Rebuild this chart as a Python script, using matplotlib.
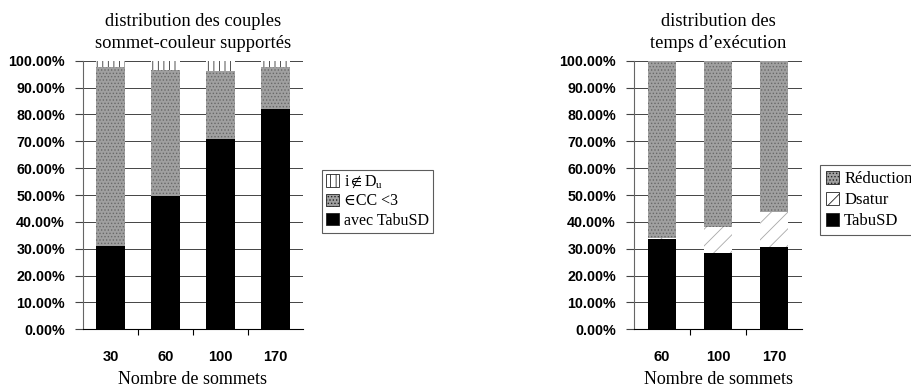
import matplotlib.pyplot as plt
import numpy as np

plt.rcParams['mathtext.fontset'] = 'stix'
plt.rcParams['hatch.linewidth'] = 0.6

# Données : couples sommet-couleur supportés (%)
sommets_1 = ['30', '60', '100', '170']
avec_tabusd = [31.0, 49.5, 71.0, 82.0]
cc_moins_3 = [66.5, 47.0, 25.0, 15.5]
hors_domaine = [2.5, 3.5, 4.0, 2.5]

# Données : temps d'exécution (%)
sommets_2 = ['60', '100', '170']
temps_tabusd = [33.5, 28.5, 30.5]
temps_dsatur = [0.5, 9.7, 13.0]
temps_reduction = [66.0, 61.8, 56.5]

serif = ['Liberation Serif', 'DejaVu Serif']
sans = 'Liberation Sans'
gris = '#a0a0a0'

fig = plt.figure(figsize=(9.11, 3.87), dpi=100)
ax1 = fig.add_axes([83 / 911, 1 - 329.3 / 387, 220 / 911, 268.6 / 387])
ax2 = fig.add_axes([634 / 911, 1 - 329.3 / 387, 168 / 911, 268.6 / 387])


def mise_en_forme(ax, labels, titre):
    n = len(labels)
    ax.set_xlim(-0.5, n - 0.5)
    ax.set_ylim(0, 100)
    ax.set_yticks(np.arange(0, 101, 10))
    ax.set_yticklabels([f'{v:.2f}%' for v in np.arange(0, 101, 10)],
                       fontfamily=sans, fontweight='bold', fontsize=10.3)
    ax.set_xticks(range(n))
    ax.set_xticklabels(labels, fontfamily=sans, fontweight='bold', fontsize=10.5)
    ax.set_xticks(np.arange(0.5, n - 0.5, 1), minor=True)
    ax.tick_params(axis='x', which='major', length=0, pad=15)
    ax.tick_params(axis='x', which='minor', length=4.5, direction='out', width=0.8)
    ax.tick_params(axis='y', length=5.5, width=0.8, pad=7.5, color='#444444')
    ax.grid(axis='y', color='#444444', linewidth=0.7)
    ax.set_axisbelow(True)
    for s in ['top', 'right']:
        ax.spines[s].set_visible(False)
    ax.spines['left'].set_linewidth(0.8)
    ax.spines['left'].set_color('#666666')
    ax.spines['bottom'].set_linewidth(0.8)
    ax.set_title(titre, fontfamily=serif, fontsize=13.3, pad=9, linespacing=1.4)
    ax.set_xlabel('Nombre de sommets', fontfamily=serif, fontsize=13, labelpad=5)


def bordure(leg):
    leg.get_frame().set_linewidth(0.8)
    for p in leg.get_patches():
        p.set_edgecolor('#222222')
        p.set_linewidth(0.6)


# Graphique 1 : couples sommet-couleur
x1 = np.arange(len(sommets_1))
b1 = np.array(avec_tabusd)
b2 = b1 + np.array(cc_moins_3)
h1 = ax1.bar(x1, avec_tabusd, width=0.51, color='black', linewidth=0)
h2 = ax1.bar(x1, cc_moins_3, bottom=b1, width=0.51, color=gris,
             edgecolor='#686868', hatch='.....', linewidth=0)
h3 = ax1.bar(x1, hors_domaine, bottom=b2, width=0.51, color='white',
             edgecolor='#333333', hatch='|||', linewidth=0)
mise_en_forme(ax1, sommets_1, 'distribution des couples\nsommet-couleur supportés')
leg1 = ax1.legend([h3, h2, h1],
                  [r'i$\notin$D$_\mathregular{u}$', '∈CC <3', 'avec TabuSD'],
                  loc='upper left', bbox_to_anchor=(322 / 911, 1 - 170 / 387),
                  bbox_transform=fig.transFigure, prop={'family': serif, 'size': 11.5},
                  frameon=True, fancybox=False, edgecolor='#333333',
                  handlelength=0.8, handleheight=0.8, handletextpad=0.3,
                  labelspacing=0.2, borderpad=0.25, borderaxespad=0)
bordure(leg1)

# Graphique 2 : temps d'exécution
x2 = np.arange(len(sommets_2))
c1 = np.array(temps_tabusd)
c2 = c1 + np.array(temps_dsatur)
g1 = ax2.bar(x2, temps_tabusd, width=0.51, color='black', linewidth=0)
g2 = ax2.bar(x2, temps_dsatur, bottom=c1, width=0.51, color='white',
             edgecolor='#a8a8a8', hatch='//', linewidth=0)
g3 = ax2.bar(x2, temps_reduction, bottom=c2, width=0.51, color=gris,
             edgecolor='#686868', hatch='.....', linewidth=0)
mise_en_forme(ax2, sommets_2, "distribution des\ntemps d’exécution")
leg2 = ax2.legend([g3, g2, g1], ['Réduction', 'Dsatur', 'TabuSD'],
                  loc='upper left', bbox_to_anchor=(820 / 911, 1 - 165 / 387),
                  bbox_transform=fig.transFigure, prop={'family': serif, 'size': 12},
                  frameon=True, fancybox=False, edgecolor='#333333',
                  handlelength=0.8, handleheight=0.8, handletextpad=0.3,
                  labelspacing=0.3, borderpad=0.35, borderaxespad=0)
bordure(leg2)

plt.savefig('out.png', dpi=100)
